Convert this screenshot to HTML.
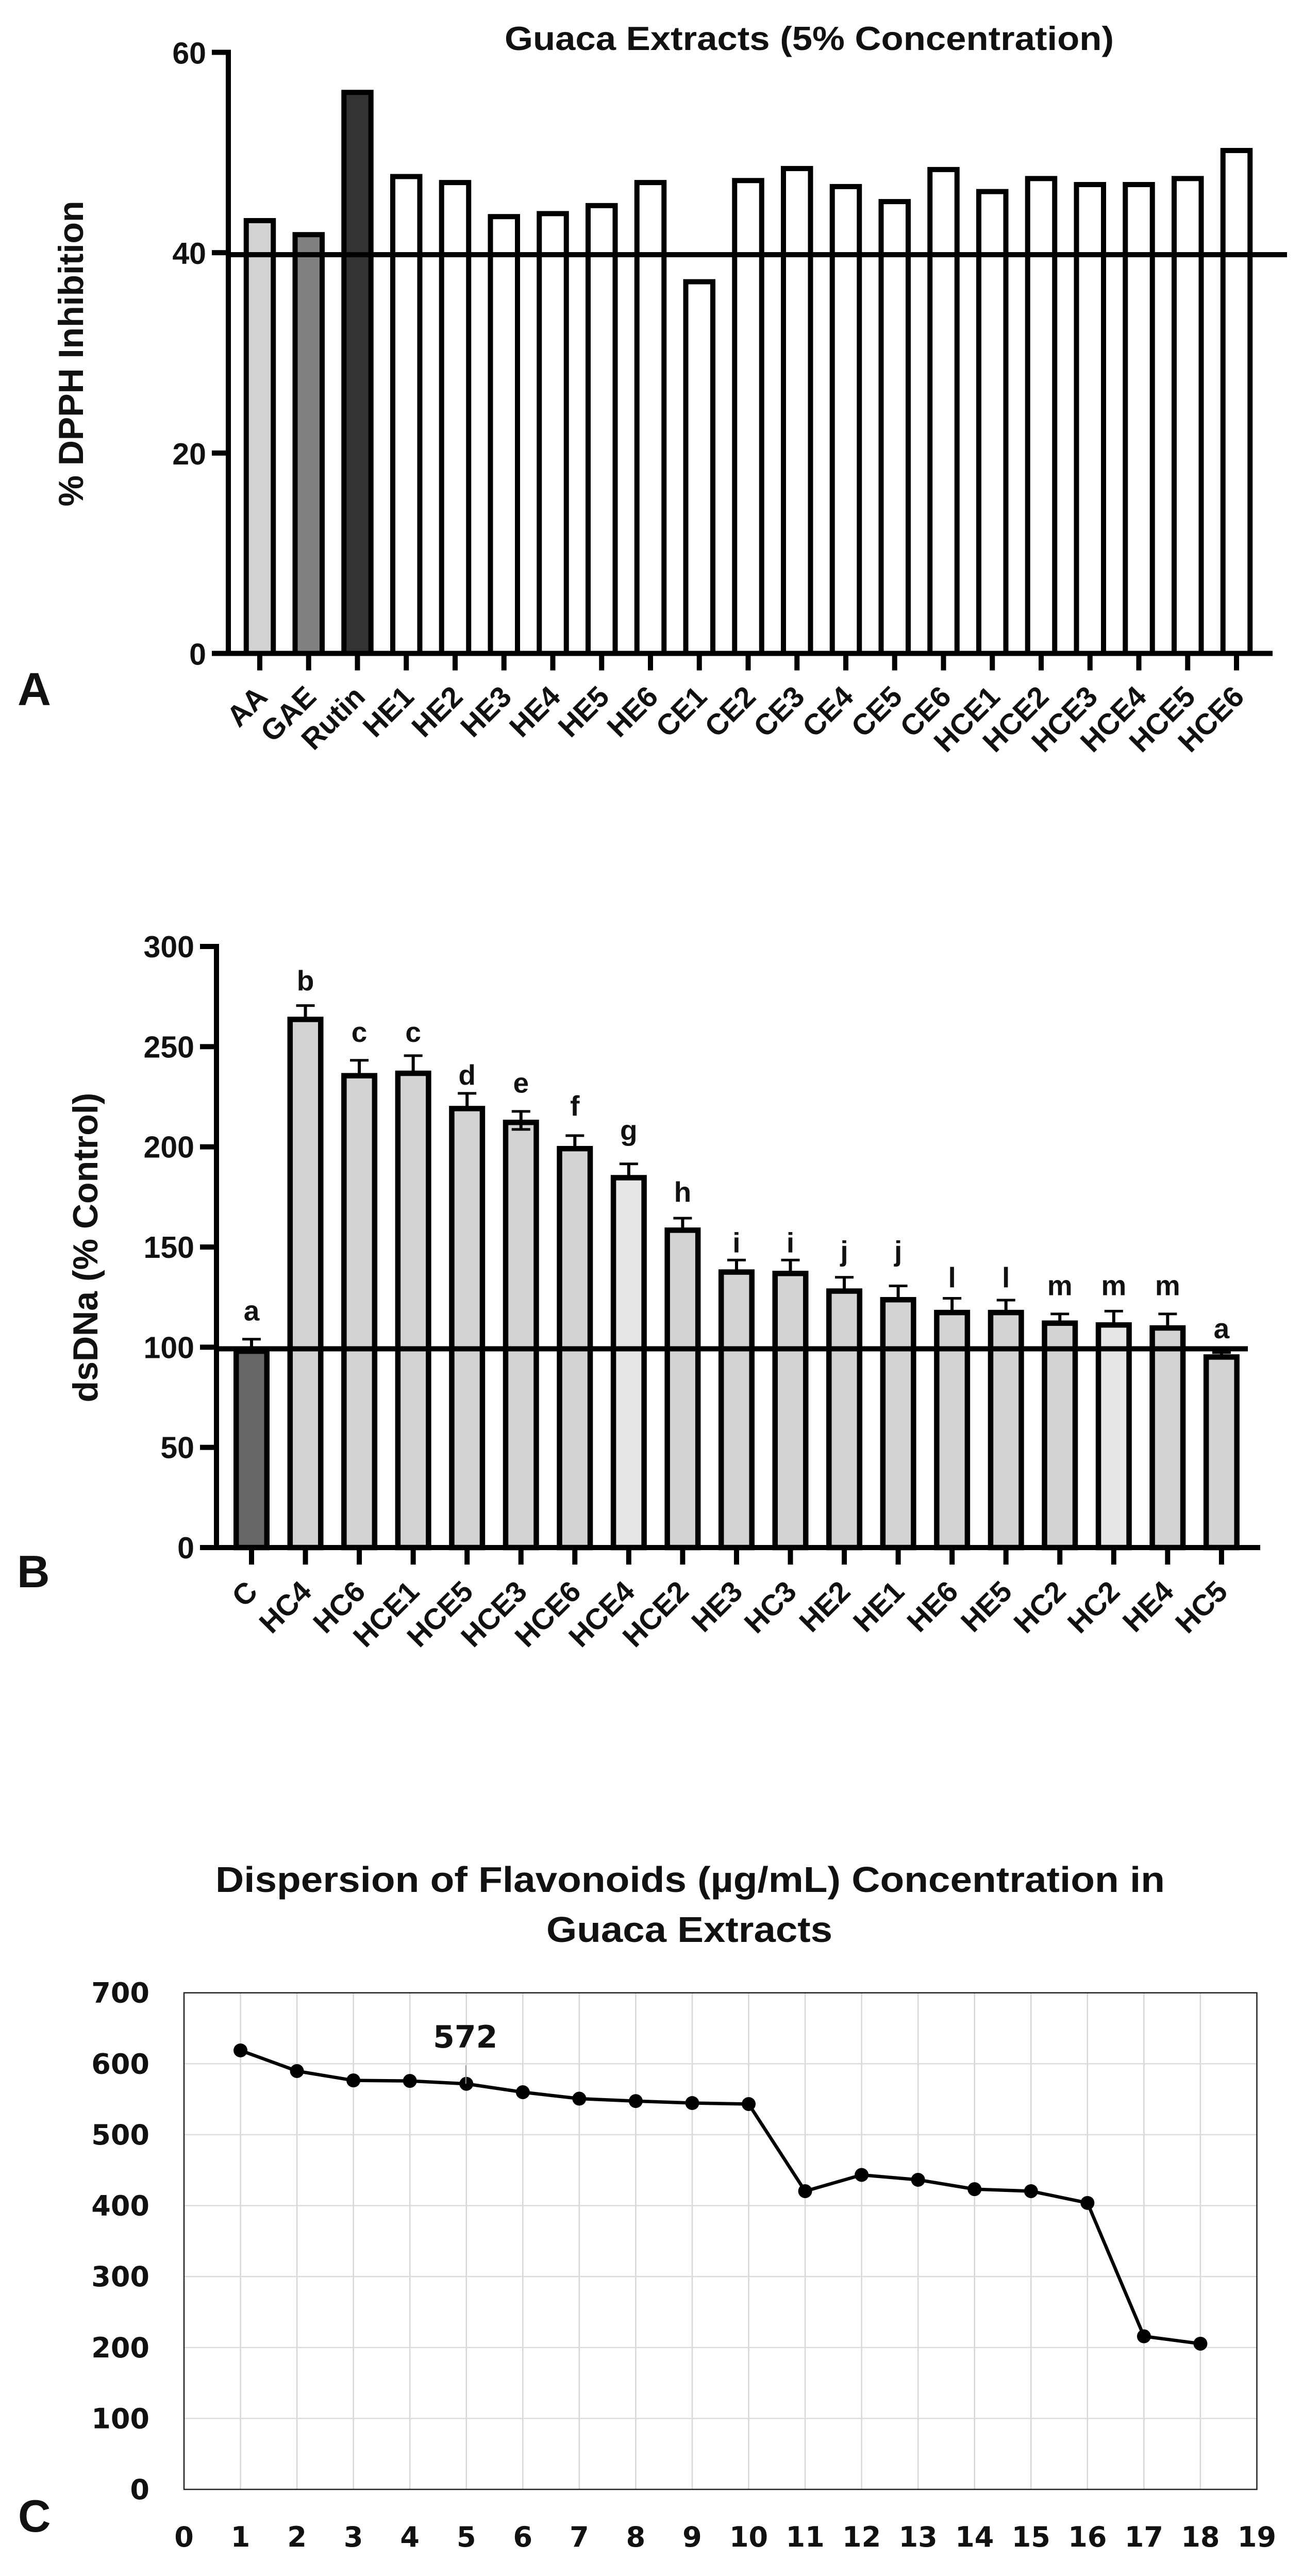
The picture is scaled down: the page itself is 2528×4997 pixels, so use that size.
<!DOCTYPE html>
<html lang="en">
<head>
<meta charset="utf-8">
<title>Guaca Extracts Charts</title>
<style>
html,body{margin:0;padding:0;background:#fff;}
body{width:2528px;height:4997px;overflow:hidden;}
svg{display:block;}
text{font-family:"Liberation Sans",sans-serif;font-weight:700;fill:#111;}
.dj{font-family:"DejaVu Sans",sans-serif;}
</style>
</head>
<body>
<svg id="fig" xmlns="http://www.w3.org/2000/svg" width="2528" height="4997" viewBox="0 0 2528 4997">
  <rect width="2528" height="4997" fill="#fff"></rect>
  <text x="34" y="1368" font-size="90">A</text>
  <text x="33" y="3079" font-size="88">B</text>
  <text x="35" y="4911" font-size="88">C</text>
  <text x="979" y="97" font-size="65" textLength="1182" lengthAdjust="spacingAndGlyphs">Guaca Extracts (5% Concentration)</text>
  <text transform="translate(161,686) rotate(-90)" text-anchor="middle" font-size="68">% DPPH Inhibition</text>
  <text transform="translate(189,2420) rotate(-90)" text-anchor="middle" font-size="68">dsDNa (% Control)</text>
  <text x="418" y="3670" font-size="70" textLength="1842" lengthAdjust="spacingAndGlyphs">Dispersion of Flavonoids (µg/mL) Concentration in</text>
  <text x="1060" y="3767" font-size="70" textLength="555" lengthAdjust="spacingAndGlyphs">Guaca Extracts</text>
</svg>
<script>
// ---------- Chart A data ----------
const aCategories = ["AA","GAE","Rutin","HE1","HE2","HE3","HE4","HE5","HE6","CE1","CE2","CE3","CE4","CE5","CE6","HCE1","HCE2","HCE3","HCE4","HCE5","HCE6"];
const aValues = [43.2,41.8,56.0,47.6,47.0,43.6,43.9,44.7,47.0,37.1,47.2,48.4,46.6,45.1,48.3,46.1,47.4,46.8,46.8,47.4,50.2];
const aFills = ["#d3d3d3","#808080","#333333","#fff","#fff","#fff","#fff","#fff","#fff","#fff","#fff","#fff","#fff","#fff","#fff","#fff","#fff","#fff","#fff","#fff","#fff"];
const aTicks = [0,20,40,60];
const aReference = 39.8;

// ---------- Chart B data ----------
const bCategories = ["C","HC4","HC6","HCE1","HCE5","HCE3","HCE6","HCE4","HCE2","HE3","HC3","HE2","HE1","HE6","HE5","HC2","HC2","HE4","HC5"];
const bValues = [98,263.6,235.5,236.7,219.1,212.2,199.1,184.6,158.4,137.5,136.8,128,123.7,117.3,117.3,112,111.1,109.6,95.1];
const bErrorUp = [6,6.9,7.7,8.8,7.6,5.5,6.5,6.9,6,6,6.7,6.9,6.9,7.1,6.2,4.6,6.9,7,2.2];
const bErrorDown = [0,0,0,0,0,3.5,0,0,0,0,0,0,0,0,0,0,0,0,0];
const bLetters = ["a","b","c","c","d","e","f","g","h","i","i","j","j","l","l","m","m","m","a"];
const bLetterLevels = [113.3,278.1,252.4,252.4,231,227,215.6,203.4,172.7,147.3,147.3,143.2,143.2,129.9,129.9,125.9,125.9,125.9,104.5];
const bFills = ["#666666","#d3d3d3","#d3d3d3","#d3d3d3","#d3d3d3","#d3d3d3","#d3d3d3","#e6e6e6","#d3d3d3","#d3d3d3","#d3d3d3","#d3d3d3","#d3d3d3","#d3d3d3","#d3d3d3","#d3d3d3","#e6e6e6","#d3d3d3","#d3d3d3"];
const bTicks = [0,50,100,150,200,250,300];
const bReference = 99.2;

// ---------- Chart C data ----------
const cXTicks = [0,1,2,3,4,5,6,7,8,9,10,11,12,13,14,15,16,17,18,19];
const cYTicks = [0,100,200,300,400,500,600,700];
const cXValues = [1,2,3,4,5,6,7,8,9,10,11,12,13,14,15,16,17,18];
const cYValues = [618.8,589.7,576.5,575.8,571.7,559.9,550.8,547.4,544.6,543.2,420.4,443.3,436.4,423.2,420.4,403.8,215.8,205.4];
const cCallout = 572;
const cCalloutIndex = 4;

const NS = "http://www.w3.org/2000/svg";
const root = document.getElementById("fig");
function mk(tag, attrs, text) {
  const el = document.createElementNS(NS, tag);
  for (const k in attrs) el.setAttribute(k, attrs[k]);
  if (text !== undefined) el.textContent = text;
  root.appendChild(el);
  return el;
}

// ---------- Chart A ----------
const aY = v => 1267.5 - v * (1166 / 60);
const aX = i => 504 + i * 94.75;
aCategories.forEach((name, i) => {
  const top = aY(aValues[i]);
  const bar = mk("rect", {x: aX(i) - 26.25, y: top, width: 52.5, height: aY(0) - top, fill: aFills[i], stroke: "#000", "stroke-width": 10});
  
  
  const tick = mk("rect", {x: aX(i) - 5, y: aY(0), width: 10, height: 33, fill: "#000"});
  
  
  const label = mk("text", {transform: "translate(" + (aX(i) + 18) + ",1355) rotate(-45)", "text-anchor": "end", "font-size": 57}, name);
  
  
});
aTicks.forEach(t => {
  const tick = mk("rect", {x: 411, y: aY(t) - 5, width: 36, height: 10, fill: "#000"});
  
  
  const label = mk("text", {x: 400, y: aY(t) + 22, "text-anchor": "end", "font-size": 59}, t);
  
  
});
const aAxisY = mk("rect", {x: 438, y: aY(60) - 5, width: 10, height: aY(0) - aY(60) + 10, fill: "#000"});


const aAxisX = mk("rect", {x: 411, y: aY(0) - 5, width: 2058, height: 10, fill: "#000"});


const aRef = mk("rect", {x: 442, y: aY(aReference) - 5, width: 2055, height: 10, fill: "#000"});



// ---------- Chart B ----------
const bY = v => 3002 - v * (1166 / 300);
const bX = i => 488 + i * 104.55;
bCategories.forEach((name, i) => {
  const x = bX(i), top = bY(bValues[i]), up = bY(bValues[i] + bErrorUp[i]);
  const stem = mk("rect", {x: x - 3, y: up, width: 6, height: top - up, fill: "#000"});
  
  
  const cap = mk("rect", {x: x - 18, y: up - 2.5, width: 36, height: 5, fill: "#000"});
  
  
  const bar = mk("rect", {x: x - 29.75, y: top, width: 59.5, height: bY(0) - top, fill: bFills[i], stroke: "#000", "stroke-width": 10.5});
  
  
  if (bErrorDown[i] > 0) {
    const low = mk("rect", {x: x - 18, y: bY(bValues[i] - bErrorDown[i]) - 2.5, width: 36, height: 5, fill: "#000"});
    
    
    const lowStem = mk("rect", {x: x - 3, y: top, width: 6, height: bY(bValues[i] - bErrorDown[i]) - top, fill: "#000"});
    
    
  }
  const tick = mk("rect", {x: x - 5, y: bY(0), width: 10, height: 33, fill: "#000"});
  
  
  const label = mk("text", {transform: "translate(" + (x + 15) + ",3091) rotate(-45)", "text-anchor": "end", "font-size": 57}, name);
  
  
  const letter = mk("text", {x: x, y: bY(bLetterLevels[i]), "text-anchor": "middle", "font-size": 55}, bLetters[i]);
  
  
});
bTicks.forEach(t => {
  const tick = mk("rect", {x: 388, y: bY(t) - 5, width: 34, height: 10, fill: "#000"});
  
  
  const label = mk("text", {x: 377, y: bY(t) + 21, "text-anchor": "end", "font-size": 59}, t);
  
  
});
const bAxisY = mk("rect", {x: 415, y: bY(300) - 5, width: 10, height: bY(0) - bY(300) + 10, fill: "#000"});


const bAxisX = mk("rect", {x: 388, y: bY(0) - 5, width: 2057, height: 10, fill: "#000"});


const bRef = mk("rect", {x: 420, y: bY(bReference) - 5, width: 2001, height: 10, fill: "#000"});



// ---------- Chart C ----------
const cX = v => 357 + v * (2081.5 / 19);
const cY = v => 4829 - v * (963.3 / 700);
cXTicks.forEach(t => {
  if (t > 0 && t < 19) {
    const g = mk("line", {x1: cX(t), x2: cX(t), y1: cY(0), y2: cY(700), stroke: "#d6d6d6", "stroke-width": 2.5});
    
    
  }
  const label = mk("text", {class: "dj", x: cX(t), y: 4940, "text-anchor": "middle", "font-size": 54}, t);
  
  
});
cYTicks.forEach(t => {
  if (t > 0 && t < 700) {
    const g = mk("line", {x1: cX(0), x2: cX(19), y1: cY(t), y2: cY(t), stroke: "#dcdcdc", "stroke-width": 2.5});
    
    
  }
  const label = mk("text", {class: "dj", x: 290, y: cY(t) + 19, "text-anchor": "end", "font-size": 54}, t);
  
  
});
const frame = mk("rect", {x: cX(0), y: cY(700), width: cX(19) - cX(0), height: cY(0) - cY(700), fill: "none", stroke: "#222", "stroke-width": 2.5});


const points = cXValues.map((v, i) => cX(v) + "," + cY(cYValues[i])).join(" ");
const series = mk("polyline", {points: points, fill: "none", stroke: "#000", "stroke-width": 6.5, "stroke-linejoin": "round"});


cXValues.forEach((v, i) => {
  const dot = mk("ellipse", {cx: cX(v), cy: cY(cYValues[i]), rx: 13.5, ry: 13.5, fill: "#000"});
  
  
});
const cx5 = cX(cXValues[cCalloutIndex]), cy5 = cY(cYValues[cCalloutIndex]);
const leader = mk("line", {x1: cx5 - 1, x2: cx5 - 1, y1: cy5 - 36, y2: cy5, stroke: "#999", "stroke-width": 2});


const callout = mk("text", {class: "dj", x: cx5 - 2, y: 3972, "text-anchor": "middle", "font-size": 60}, cCallout);


</script>
</body>
</html>
